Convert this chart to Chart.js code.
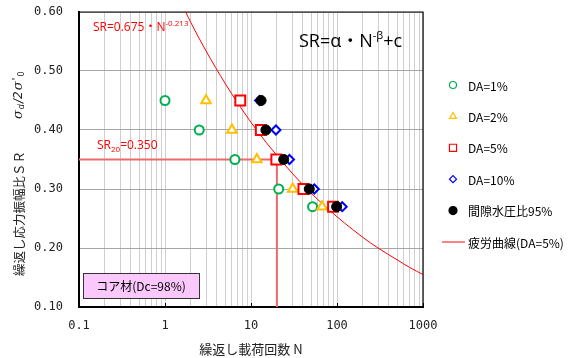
<!DOCTYPE html>
<html>
<head>
<meta charset="utf-8">
<script src="https://cdn.jsdelivr.net/npm/chart.js@4.4.1/dist/chart.umd.min.js"></script>
<style>
  body { margin: 0; background: #fff; }
</style>
</head>
<body>
<canvas id="chart" width="574" height="358"></canvas>
<script>
// test results: cycles N at each stress ratio SR
const srLevels = [0.45, 0.40, 0.35, 0.30, 0.27];
const da1N = [1.0, 2.5, 6.5, 21, 52];
const da2N = [3.0, 6.0, 11.7, 30.5, 67];
const da5N = [7.5, 13.0, 19.7, 40.7, 90];
const da10N = [12.6, 19.5, 28, 54.5, 115];
const pwpN = [13.1, 14.9, 24, 47.6, 99];

// fatigue curve (DA=5%)
const curveN = [1.74, 2, 3, 5, 7, 10, 15, 20, 30, 50, 70, 100, 150, 200, 300, 500, 700, 1000];
const curveSR = [0.600, 0.582, 0.534, 0.479, 0.446, 0.413, 0.379, 0.357, 0.327, 0.293, 0.273, 0.253, 0.232, 0.218, 0.200, 0.180, 0.167, 0.155];

// SR20 guide line
const sr20N = [0.1, 20, 20];
const sr20SR = [0.35, 0.35, 0.10];

const xTickValues = [0.1, 1, 10, 100, 1000];
const xTickLabels = ['0.1', '1', '10', '100', '1000'];
const yTickValues = [0.1, 0.2, 0.3, 0.4, 0.5, 0.6];
const yTickLabels = ['0.10', '0.20', '0.30', '0.40', '0.50', '0.60'];

const JP = '"Noto Sans CJK JP", sans-serif';
const pts = (xs, ys) => xs.map((x, i) => ({ x: x, y: ys[i] }));

const legendItems = [
  { label: 'DA=1%', style: 'circle', color: '#00b050', fill: '#fff', r: 3.5 },
  { label: 'DA=2%', style: 'triangle', color: '#ffc000', fill: '#fff', r: 4 },
  { label: 'DA=5%', style: 'rect', color: '#ff0000', fill: '#fff', r: 5 },
  { label: 'DA=10%', style: 'rectRot', color: '#0000ff', fill: '#fff', r: 3.5 },
  { label: '間隙水圧比95%', style: 'circle', color: '#000', fill: '#000', r: 4 },
  { label: '疲労曲線(DA=5%)', style: 'line', color: '#ff5a5a' }
];

function richText(ctx, x, y, parts, color) {
  ctx.fillStyle = color;
  ctx.textBaseline = 'alphabetic';
  ctx.textAlign = 'left';
  parts.forEach(p => {
    ctx.font = p.font;
    ctx.fillText(p.t, x, y + (p.dy || 0));
    x += ctx.measureText(p.t).width;
  });
}

const decor = {
  id: 'decor',
  beforeDatasetsDraw(chart) {
    const ctx = chart.ctx;
    const a = chart.chartArea;
    ctx.save();
    ctx.strokeStyle = '#000';
    ctx.lineWidth = 1.2;
    ctx.beginPath();
    ctx.moveTo(a.left, a.top);
    ctx.lineTo(a.right, a.top);
    ctx.lineTo(a.right, a.bottom);
    ctx.stroke();
    // small inward ticks at decades on the x axis
    const xs = chart.scales.x;
    ctx.lineWidth = 1;
    xTickValues.forEach(v => {
      const px = Math.round(xs.getPixelForValue(v)) + 0.5;
      ctx.beginPath();
      ctx.moveTo(px, a.bottom);
      ctx.lineTo(px, a.bottom - 4);
      ctx.stroke();
    });
    ctx.restore();
  },
  afterDatasetsDraw(chart) {
    const ctx = chart.ctx;
    ctx.save();

    // formula texts
    const OS = '"Open Sans", sans-serif';
    richText(ctx, 299, 47, [
      { t: 'SR=α', font: '18px ' + OS },
      { t: '・', font: '18px ' + JP },
      { t: 'N', font: '18px ' + OS },
      { t: '-β', font: '11px ' + OS, dy: -8 },
      { t: '+c', font: '18px ' + OS }
    ], '#000');
    richText(ctx, 93, 31, [
      { t: 'SR=0.675', font: '12px ' + OS },
      { t: '・', font: '12px ' + JP },
      { t: 'N', font: '12px ' + OS },
      { t: '-0.213', font: '8px ' + OS, dy: -5 }
    ], '#ff0000');
    richText(ctx, 97, 149, [
      { t: 'SR', font: '12px ' + OS },
      { t: '20', font: '8px ' + OS, dy: 3 },
      { t: '=0.350', font: '12px ' + OS }
    ], '#ff0000');

    // material box
    ctx.fillStyle = '#fbc8fb';
    ctx.fillRect(83, 273, 116, 25);
    ctx.strokeStyle = '#333';
    ctx.lineWidth = 1;
    ctx.strokeRect(83.5, 273.5, 116, 25);
    ctx.fillStyle = '#000';
    ctx.font = '12px ' + JP;
    ctx.textAlign = 'center';
    ctx.textBaseline = 'middle';
    ctx.fillText('コア材(Dc=98%)', 141, 286);

    // legend
    legendItems.forEach((it, i) => {
      const y = 85 + i * 31.4;
      if (it.style === 'line') {
        ctx.strokeStyle = it.color;
        ctx.lineWidth = 1.5;
        ctx.beginPath();
        ctx.moveTo(442, y);
        ctx.lineTo(465, y);
        ctx.stroke();
      } else {
        ctx.strokeStyle = it.color;
        ctx.fillStyle = it.fill;
        ctx.lineWidth = 1.2;
        Chart.helpers.drawPoint(ctx, { pointStyle: it.style, radius: it.r, rotation: 0, borderWidth: 1.2 }, 453, y);
      }
      ctx.fillStyle = '#000';
      ctx.font = '12px ' + JP;
      ctx.textAlign = 'left';
      ctx.textBaseline = 'middle';
      ctx.fillText(it.label, 468, y + 1);
    });

    // y axis title (rotated)
    ctx.translate(19, 276);
    ctx.rotate(-Math.PI / 2);
    ctx.fillStyle = '#222';
    ctx.textAlign = 'left';
    ctx.textBaseline = 'middle';
    ctx.font = '12.5px ' + JP;
    ctx.fillText('繰返し応力振幅比ＳＲ', 0, 0);
    let x = 157;
    const seg = [
      { t: 'σ', font: 'italic 13px "DejaVu Serif", serif', dy: 0 },
      { t: 'd', font: 'italic 8px "DejaVu Sans", sans-serif', dy: 3 },
      { t: '/2', font: 'italic 12px "DejaVu Sans", sans-serif', dy: 0 },
      { t: 'σ', font: 'italic 13px "DejaVu Serif", serif', dy: 0 },
      { t: '\'', font: '11px ' + JP, dy: -3 },
      { t: '0', font: '8px "DejaVu Sans", sans-serif', dy: 3 }
    ];
    seg.forEach(s => {
      ctx.font = s.font;
      ctx.fillText(s.t, x, s.dy);
      x += ctx.measureText(s.t).width + 1;
    });
    ctx.restore();
  }
};

const ctx = document.getElementById('chart').getContext('2d');
new Chart(ctx, {
  type: 'scatter',
  data: {
    datasets: [
      {
        label: '間隙水圧比95%', data: pts(pwpN, srLevels), order: 1,
        pointStyle: 'circle', pointRadius: 5, borderColor: '#000', backgroundColor: '#000', borderWidth: 1
      },
      {
        label: 'DA=10%', data: pts(da10N, srLevels), order: 2,
        pointStyle: 'rectRot', pointRadius: 4.5, borderColor: '#0000ff', backgroundColor: '#fff', borderWidth: 2
      },
      {
        label: 'DA=5%', data: pts(da5N, srLevels), order: 3,
        pointStyle: 'rect', pointRadius: 7, borderColor: '#ff0000', backgroundColor: '#fff', borderWidth: 2
      },
      {
        label: 'DA=2%', data: pts(da2N, srLevels), order: 4,
        pointStyle: 'triangle', pointRadius: 5.5, borderColor: '#ffc000', backgroundColor: '#fff', borderWidth: 2
      },
      {
        label: 'DA=1%', data: pts(da1N, srLevels), order: 5,
        pointStyle: 'circle', pointRadius: 4.5, borderColor: '#00b050', backgroundColor: '#fff', borderWidth: 2
      },
      {
        label: '疲労曲線(DA=5%)', data: pts(curveN, curveSR), order: 6,
        showLine: true, pointRadius: 0, borderColor: '#ff0000', borderWidth: 1,
        cubicInterpolationMode: 'monotone', fill: false
      },
      {
        label: 'SR20', data: pts(sr20N, sr20SR), order: 7,
        showLine: true, pointRadius: 0, borderColor: '#ec6a6a', borderWidth: 2, tension: 0, fill: false
      }
    ]
  },
  options: {
    responsive: false,
    devicePixelRatio: 1,
    animation: false,
    layout: { padding: { left: 0, top: 12, right: 151, bottom: 0 } },
    plugins: {
      legend: { display: false },
      tooltip: { enabled: false }
    },
    scales: {
      x: {
        type: 'logarithmic',
        min: 0.1,
        max: 1000,
        afterFit: s => { s.height = 51; },
        afterBuildTicks: s => {
          const ticks = [];
          xTickValues.forEach((d, i) => {
            const last = i === xTickValues.length - 1;
            for (let k = 1; k <= (last ? 1 : 9); k++) {
              ticks.push({ value: +(d * k).toPrecision(3) });
            }
          });
          s.ticks = ticks;
        },
        ticks: {
          autoSkip: false,
          maxRotation: 0,
          padding: 12,
          color: '#222',
          font: { family: '"DejaVu Sans Mono", monospace', size: 12 },
          callback: v => {
            const i = xTickValues.indexOf(v);
            return i >= 0 ? xTickLabels[i] : '';
          }
        },
        grid: { color: '#cfcfcf', lineWidth: 1, drawTicks: false, tickLength: 0 },
        border: { color: '#000', width: 2 },
        title: {
          display: true,
          text: '繰返し載荷回数 N',
          color: '#222',
          font: { family: JP, size: 13 },
          padding: { top: 0, bottom: 1 }
        }
      },
      y: {
        type: 'linear',
        min: 0.1,
        max: 0.6,
        afterFit: s => {
          s.width = 79;
          s.paddingTop = 0;
          s.paddingBottom = 0;
        },
        afterBuildTicks: s => { s.ticks = yTickValues.map(v => ({ value: v })); },
        ticks: {
          padding: 16,
          color: '#222',
          font: { family: '"DejaVu Sans Mono", monospace', size: 12 },
          callback: v => {
            const i = yTickValues.findIndex(t => Math.abs(t - v) < 1e-9);
            return i >= 0 ? yTickLabels[i] : '';
          }
        },
        grid: { color: '#a6a6a6', lineWidth: 1, drawTicks: false, tickLength: 0 },
        border: { color: '#000', width: 2 }
      }
    }
  },
  plugins: [decor]
});
</script>
</body>
</html>
